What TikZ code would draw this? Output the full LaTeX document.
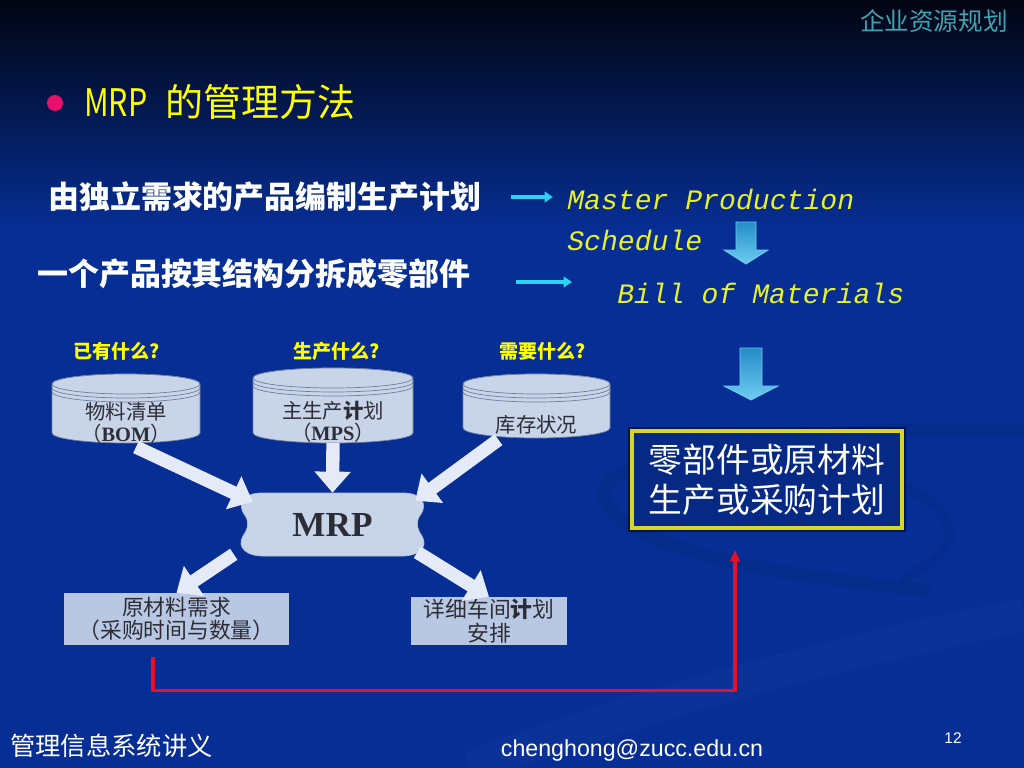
\documentclass[tikz,border=0pt]{standalone}
\usepackage{fontspec}
\usepackage{graphicx}
\usetikzlibrary{arrows.meta,calc,positioning}
\setmainfont{Noto Sans CJK SC}
\newfontfamily\mpsfont{Liberation Mono}
\newfontfamily\mrpfont{Liberation Serif}
\newfontfamily\mailfont{Liberation Sans}
\newcommand{\pxu}{0.025cm}

\definecolor{slidebg}{RGB}{6,46,148}
\definecolor{slidetop}{RGB}{2,5,18}
\definecolor{titleyellow}{RGB}{255,255,0}
\definecolor{engyellow}{RGB}{232,240,40}
\definecolor{tealhead}{RGB}{60,165,180}
\definecolor{arrowcyan}{RGB}{40,212,240}
\definecolor{drumfill}{RGB}{200,212,232}
\definecolor{drumline}{RGB}{110,125,160}
\definecolor{boxfill}{RGB}{184,200,226}
\definecolor{fatwhite}{RGB}{228,234,246}
\definecolor{linkred}{RGB}{230,16,40}
\definecolor{bulletpink}{RGB}{232,16,106}
\definecolor{blockblue}{RGB}{36,140,200}
\definecolor{blocklight}{RGB}{110,205,240}
\definecolor{planyellow}{RGB}{214,214,40}
\definecolor{inktext}{RGB}{45,45,55}

\tikzset{
  linetext/.style={text=white, inner sep=0pt, font=\bfseries\fontsize{22}{22}\selectfont},
  engtext/.style={text=engyellow, inner sep=0pt, font=\mpsfont\itshape\fontsize{20}{20}\selectfont},
  question/.style={text=titleyellow, inner sep=0pt, font=\bfseries\fontsize{13.5}{13.5}\selectfont},
  drum/.style={fill=drumfill, draw=drumline, line width=0.5pt},
  drumtext/.style={text=inktext, align=center, inner sep=0pt, font=\fontsize{14.5}{16}\selectfont},
  reqbox/.style={fill=boxfill, text=inktext, align=center, inner sep=0pt, font=\fontsize{15.5}{16.5}\selectfont},
  planbox/.style={draw=planyellow, line width=3pt, fill=slidebg!90!black, text=white, align=center,
    inner sep=0pt, font=\fontsize{24}{28.5}\selectfont,
    preaction={draw=black, draw opacity=0.5, line width=6pt}},
  fatarrow/.style={draw=fatwhite, line width=9.5pt, -{Triangle[length=15pt,width=25pt]}},
  cyanarrow/.style={draw=arrowcyan, line width=2.4pt, -{Triangle[length=6pt,width=7.5pt]}},
  blockarrow/.style={top color=blockblue, bottom color=blocklight, draw=blocklight, line width=0.6pt},
  feedback/.style={draw=linkred, line width=2.4pt, -{Triangle[length=8pt,width=7pt]}}
}

\begin{document}
\begin{tikzpicture}[x=0.025cm,y=-0.025cm]

  \useasboundingbox (0,0) rectangle (1024,768);

  % background and template swooshes
  \fill[slidebg] (0,0) rectangle (1024,768);
  \shade[top color=slidetop, bottom color=slidebg] (0,0) rectangle (1024,230);
  \begin{scope}
    \clip (0,0) rectangle (1024,768);
    \draw[black, draw opacity=0.06, line width=9pt] (1024,430) .. controls (760,425) and (590,455) .. (605,500) .. controls (620,545) and (760,575) .. (930,590);
    \draw[black, draw opacity=0.05, line width=7pt] (860,470) .. controls (960,500) and (980,545) .. (900,580);
    \draw[white, draw opacity=0.025, line width=24pt] (470,768) .. controls (650,700) and (850,650) .. (1024,615);
  \end{scope}

  % header and title
  \node[text=tealhead, font=\fontsize{17.5}{17.5}\selectfont, anchor=east, inner sep=0pt] (header) at (1008,21) {企业资源规划};
  \fill[bulletpink] (55,103) circle (8);
  \node[text=titleyellow, font=\fontsize{27}{27}\selectfont, anchor=west, inner sep=0pt] (title) at (84,102) {\scalebox{0.8}[1]{MRP}\hspace{13pt}的管理方法};

  % the two statements
  \node[linetext, anchor=west] (make) at (48,197) {由独立需求的产品编制生产计划};
  \node[linetext, anchor=west] (split) at (37,274) {一个产品按其结构分拆成零部件};
  \node[engtext, anchor=west] (master) at (567,199) {Master Production};
  \node[engtext, anchor=west] (sched) at (567,240) {Schedule};
  \node[engtext, anchor=west] (bill) at (617,293) {Bill of Materials};

  \draw[cyanarrow, shorten <=21pt, shorten >=10pt] (make.east) -- (master.west |- make.east);
  \draw[cyanarrow, shorten <=32pt, shorten >=32pt] ($(split.east)+(0,8)$) -- ($(bill.west)+(0,-11)$);

  % block arrows
  \coordinate (down1) at (746,222);
  \coordinate (down2) at (751,348);
  \path[blockarrow] (down1) ++(-10,0) -- ++(20,0) -- ++(0,28) -- ++(12,0) -- ++(-22,14) -- ++(-22,-14) -- ++(12,0) -- cycle;
  \path[blockarrow] (down2) ++(-11,0) -- ++(22,0) -- ++(0,38) -- ++(16,0) -- ++(-27,14) -- ++(-27,-14) -- ++(16,0) -- cycle;

  \node[planbox, minimum width=270*\pxu, minimum height=97*\pxu] (plan) at (767,479.5) {零部件或原材料\\生产或采购计划};

  % questions and databases
  \node[question] (qhave) at (117,351) {已有什么?};
  \node[question] (qmake) at (337,351) {生产什么?};
  \node[question] (qneed) at (543,351) {需要什么?};

  \foreach \cx/\ct/\cb/\rx in {126/374/443/74, 333/368/443/80, 536.5/374/438/73.5}{
    \path[drum] (\cx-\rx,\ct+10) -- (\cx-\rx,\cb-10) arc[start angle=180, end angle=0, x radius=\rx, y radius=10]
      -- (\cx+\rx,\ct+10) arc[start angle=0, end angle=-180, x radius=\rx, y radius=10] -- cycle;
    \path[drum] (\cx,\ct+10) ellipse[x radius=\rx, y radius=10];
    \draw[drumline, line width=0.5pt] (\cx-\rx,\ct+14) arc[start angle=180, end angle=0, x radius=\rx, y radius=10];
    \draw[drumline, line width=0.5pt] (\cx-\rx,\ct+18) arc[start angle=180, end angle=0, x radius=\rx, y radius=10];
  }

  \node[drumtext] (bom) at (126,423) {物料清单\\（{\mrpfont\bfseries BOM}）};
  \node[drumtext] (mps) at (333,422) {主生产{\bfseries 计}划\\（{\mrpfont\bfseries MPS}）};
  \node[drumtext] (stock) at (536.5,425) {库存状况};

  % MRP
  \path[drum, draw=drumline!50] (262,493) -- (403,493) .. controls (423,493) and (427,505) .. (421,514)
    .. controls (416,520) and (416,528) .. (422,536) .. controls (429,548) and (417,556) .. (403,556)
    -- (262,556) .. controls (248,556) and (236,548) .. (243,536) .. controls (249,528) and (249,520) .. (244,514)
    .. controls (238,505) and (242,493) .. (262,493) -- cycle;
  \node[text=inktext, font=\mrpfont\bfseries\fontsize{25}{25}\selectfont, minimum width=185*\pxu, minimum height=63*\pxu, inner sep=0pt] (mrp) at (332.5,524.5) {MRP};

  \node[reqbox, minimum width=225*\pxu, minimum height=52*\pxu] (box1) at (176.5,619) {原材料需求\\（采购时间与数量）};
  \node[reqbox, minimum width=156*\pxu, minimum height=48*\pxu] (box2) at (489,621) {详细车间{\bfseries 计}划\\安排};

  \draw[fatarrow] ($(bom.south)+(10,3)$) -- ($(mrp.north west)+(13,9)$);
  \draw[fatarrow] (mps.south) -- (mrp.north);
  \draw[fatarrow] ($(stock.south west)+(3,5)$) -- ($(mrp.north east)+(-10,8)$);
  \draw[fatarrow] ($(mrp.south west)+(-6,-2)$) -- (box1.north);
  \draw[fatarrow] ($(mrp.south east)+(-8,-4)$) -- (box2.north);

  \draw[feedback] ($(box1.south)+(-23.5,12)$) -- ++(0,33) -| ($(plan.south)+(-32,20)$);

  % footer
  \node[text=white, font=\fontsize{18}{18}\selectfont, anchor=west, inner sep=0pt] (course) at (10,746) {管理信息系统讲义};
  \node[text=white, font=\mailfont\fontsize{16.5}{16.5}\selectfont, inner sep=0pt] (mail) at (632,750) {chenghong@zucc.edu.cn};
  \node[text=white, font=\mailfont\fontsize{11}{11}\selectfont, inner sep=0pt] (page) at (953,738) {12};

\end{tikzpicture}
\end{document}
